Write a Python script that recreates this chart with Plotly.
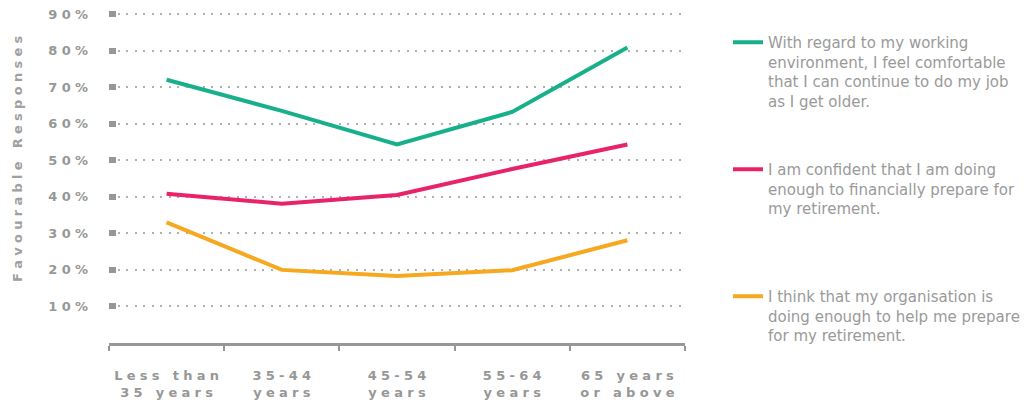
import plotly.graph_objects as go

categories = ["Less than<br>35 years", "35-44<br>years", "45-54<br>years", "55-64<br>years", "65 years<br>or above"]
working_env = [72, 63.5, 54.3, 63.2, 80.8]
financial = [40.8, 38.1, 40.5, 47.6, 54.3]
organisation = [33, 20, 18.3, 19.9, 28.1]
y_ticks = [0, 10, 20, 30, 40, 50, 60, 70, 80, 90]
y_ticklabels = ["", "10%", "20%", "30%", "40%", "50%", "60%", "70%", "80%", "90%"]

names = [
    "With regard to my working<br>environment, I feel comfortable<br>that I can continue to do my job<br>as I get older.",
    "I am confident that I am doing<br>enough to financially prepare for<br>my retirement.<br> ",
    "I think that my organisation is<br>doing enough to help me prepare<br>for my retirement.",
]
colors = ["#17B08A", "#E8236A", "#F6A81F"]
series = [working_env, financial, organisation]

SP = "\u2004"


def spaced(s):
    parts = s.split("<br>")
    return "<br>".join(SP.join(list(p)) for p in parts)


fig = go.Figure()
for i, (vals, nm, c) in enumerate(zip(series, names, colors)):
    fig.add_trace(go.Scatter(
        x=categories, y=vals, mode="lines", name=nm,
        line=dict(color=c, width=4), legendgroup=f"g{i}",
    ))

gray = "#979797"
fig.update_layout(
    width=1032, height=407,
    margin=dict(l=109, r=347, t=7, b=60),
    paper_bgcolor="white", plot_bgcolor="white",
    font=dict(family="Roboto", color=gray),
    showlegend=True,
    legend=dict(
        xref="container", yref="container",
        x=728 / 1032, y=1 - 26 / 407, xanchor="left", yanchor="top",
        valign="top", tracegroupgap=46, maxheight=400,
        font=dict(family="DejaVu Sans", size=15, color="#9a9a9a"),
        bgcolor="rgba(0,0,0,0)",
    ),
    xaxis=dict(
        tickmode="array", tickvals=categories,
        ticktext=[spaced(c) for c in categories],
        range=[-0.5, 4.5],
        tickson="boundaries", ticks="outside", ticklen=5, tickwidth=2,
        tickcolor=gray, showline=True, linecolor=gray, linewidth=3,
        showgrid=False, tickfont=dict(family="DejaVu Sans", size=13, color=gray, weight="bold"),
        ticklabelstandoff=18,
    ),
    yaxis=dict(
        range=[0, 91.9], tickvals=y_ticks,
        ticktext=[spaced(t) for t in y_ticklabels],
        ticks="inside", ticklen=7, tickwidth=6, tickcolor=gray,
        showline=False, zeroline=False,
        showgrid=True, gridcolor="#b0b0b0", griddash="2px,6.5px", gridwidth=1.5,
        tickfont=dict(family="DejaVu Sans", size=13, color=gray, weight="bold"),
        ticklabelstandoff=20,
    ),
    annotations=[dict(
        text=SP.join(list("Favourable Responses")),
        xref="paper", yref="paper", x=-0.16, y=0.55, xanchor="center", yanchor="middle",
        showarrow=False, textangle=-90,
        font=dict(family="DejaVu Sans", size=13, color="#a0a0a0", weight="bold"),
    )],
)

fig.write_html("out.html")
